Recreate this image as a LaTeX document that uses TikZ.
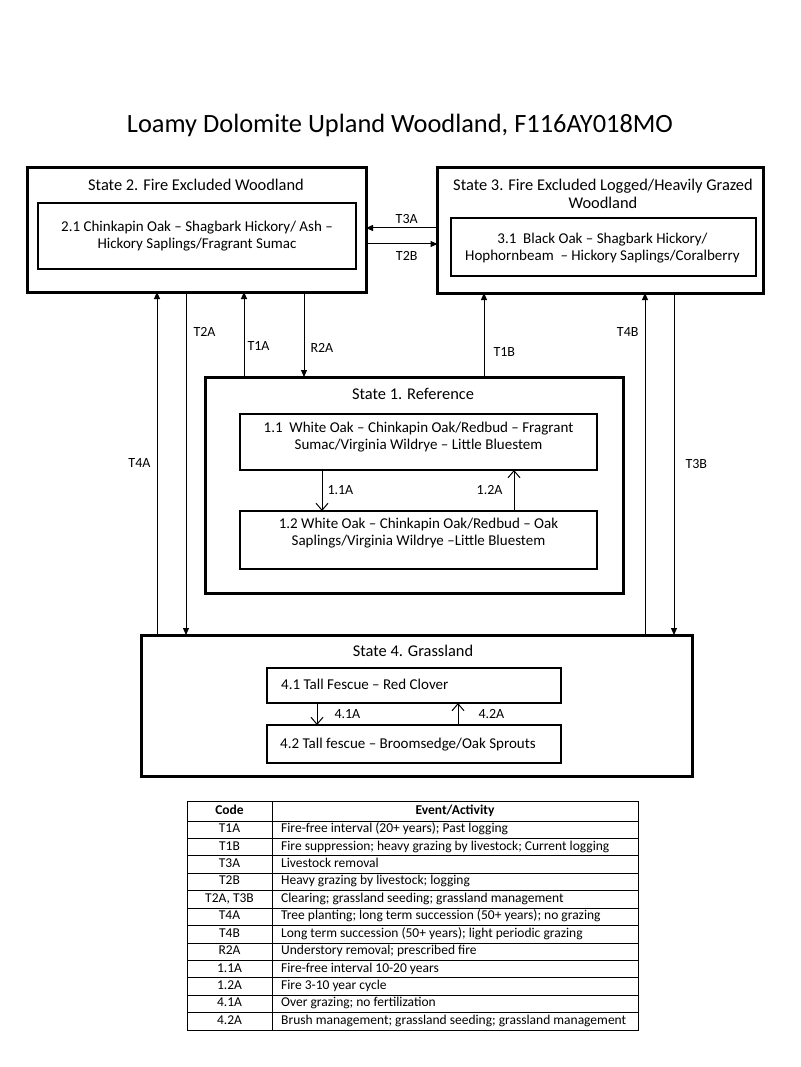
\documentclass[tikz,border=0pt]{standalone}
\usepackage{fontspec}
\setmainfont{Carlito}
\usetikzlibrary{arrows.meta}

\begin{document}
\begin{tikzpicture}[x=1pt,y=-1pt,
    statebox/.style={draw,line width=3pt,inner sep=0pt,outer sep=0pt},
    phasebox/.style={draw,line width=1.1pt,inner sep=0pt,outer sep=0pt},
    trans/.style={-{Triangle[length=7pt,width=6pt]},line width=1pt},
    pathway/.style={-{Straight Barb[length=7pt,width=12pt]},line width=1pt},
    lbl/.style={font=\fontsize{14}{16}\selectfont,inner sep=0pt}]

  \useasboundingbox[fill=white] (0,0) rectangle (800,1067);

  \node (title) at (400,125) {\fontsize{26.4}{30}\selectfont Loamy Dolomite Upland Woodland, F116AY018MO};

  % state boxes
  \begin{scope}[every node/.style={statebox}]
    \node[minimum width=339pt,minimum height=124pt] (s2) at (196.5,230)  {};
    \node[minimum width=326pt,minimum height=125pt] (s3) at (600.5,230.5) {};
    \node[minimum width=418pt,minimum height=216pt] (s1) at (414,485)    {};
    \node[minimum width=551pt,minimum height=141pt] (s4) at (416.5,705.5) {};
  \end{scope}

  % community phase boxes
  \begin{scope}[every node/.style={phasebox}]
    \node[minimum width=318pt,minimum height=66pt] (p21) at (197,236)   {};
    \node[minimum width=305pt,minimum height=58pt] (p31) at (603.5,247) {};
    \node[minimum width=357pt,minimum height=56pt] (p11) at (418.5,442) {};
    \node[minimum width=357pt,minimum height=58pt] (p12) at (418.5,540) {};
    \node[minimum width=294pt,minimum height=35pt] (p41) at (414,685.5) {};
    \node[minimum width=294pt,minimum height=38pt] (p42) at (414,744)   {};
  \end{scope}

  % state titles
  \begin{scope}[every node/.style={align=center,inner sep=0pt,font=\fontsize{16.4}{18}\selectfont}]
    \node (t2) at (196,185) {State 2. Fire Excluded Woodland};
    \node (t3) at (603,194) {State 3. Fire Excluded Logged/Heavily Grazed\\Woodland};
    \node (t1) at (413,394) {State 1. Reference};
    \node (t4) at (413,651) {State 4. Grassland};
  \end{scope}

  % phase texts
  \begin{scope}[every node/.style={align=center,inner sep=0pt,font=\fontsize{15}{17.5}\selectfont}]
    \node (x21) at (197,236)   {2.1 Chinkapin Oak -- Shagbark Hickory/ Ash --\\Hickory Saplings/Fragrant Sumac};
    \node (x31) at (602.5,248) {3.1\ \ Black Oak -- Shagbark Hickory/\\Hophornbeam\ \ -- Hickory Saplings/Coralberry};
    \node (x11) at (418.5,437) {1.1\ \ White Oak -- Chinkapin Oak/Redbud -- Fragrant\\Sumac/Virginia Wildrye -- Little Bluestem};
    \node (x12) at (418.5,533) {1.2 White Oak -- Chinkapin Oak/Redbud -- Oak\\Saplings/Virginia Wildrye --Little Bluestem};
    \node[anchor=west] (x41) at (281,684) {4.1 Tall Fescue -- Red Clover};
    \node[anchor=west] (x42) at (280,745) {4.2 Tall fescue -- Broomsedge/Oak Sprouts};
  \end{scope}

  % transitions between states
  \draw[trans] (s3.west |- 0,228) -- node[lbl,above=4pt,xshift=5pt] (lT3A) {T3A} (s2.east |- 0,228);
  \draw[trans] (s2.east |- 0,244) -- node[lbl,below=7pt,xshift=5pt] (lT2B) {T2B} (s3.west |- 0,244);
  \draw[trans] (s4.north -| 157,0) -- node[lbl,left=6pt] (lT4A) {T4A} (s2.south -| 157,0);
  \draw[trans] (s2.south -| 186,0) -- node[lbl,right=7pt,pos=.117] (lT2A) {T2A} (s4.north -| 186,0);
  \draw[trans] (s1.north -| 244,0) -- node[lbl,right=3pt,pos=.36] (lT1A) {T1A} (s2.south -| 244,0);
  \draw[trans] (s2.south -| 304,0) -- node[lbl,right=6pt,pos=.66] (lR2A) {R2A} (s1.north -| 304,0);
  \draw[trans] (s1.north -| 484,0) -- node[lbl,right=9pt,pos=.3] (lT1B) {T1B} (s3.south -| 484,0);
  \draw[trans] (s4.north -| 645,0) -- node[lbl,left=6pt,pos=.886] (lT4B) {T4B} (s3.south -| 645,0);
  \draw[trans] (s3.south -| 674,0) -- node[lbl,right=11pt] (lT3B) {T3B} (s4.north -| 674,0);

  % pathways between phases
  \draw[pathway] (p11.south -| 322,0) -- node[lbl,right=5pt] (l11A) {1.1A} (p12.north -| 322,0);
  \draw[pathway] (p12.north -| 514,0) -- node[lbl,left=11pt] (l12A) {1.2A} (p11.south -| 514,0);
  \draw[pathway] (p41.south -| 317,0) -- node[lbl,right=17pt] (l41A) {4.1A} (p42.north -| 317,0);
  \draw[pathway] (p42.north -| 458,0) -- node[lbl,right=20pt] (l42A) {4.2A} (p41.south -| 458,0);

  % legend table
  \begin{scope}[line width=0.9pt]
    \draw (187,801) rectangle (638,1030);
    \draw (272,801) -- (272,1030);
    \foreach \r in {0,...,11}
      \draw (187,821+\r*17.42) -- (638,821+\r*17.42);
  \end{scope}

  \begin{scope}[every node/.style={inner sep=0pt,text height=9pt,text depth=3pt,font=\fontsize{13.5}{15}\selectfont}]
    \node[font=\fontsize{13.5}{15}\selectfont\bfseries] (hcode)  at (229.5,811) {Code};
    \node[font=\fontsize{13.5}{15}\selectfont\bfseries] (hevent) at (455,811)   {Event/Activity};
    \foreach \code/\event [count=\i] in {
        T1A/{Fire-free interval (20+ years); Past logging},
        T1B/{Fire suppression; heavy grazing by livestock; Current logging},
        T3A/{Livestock removal},
        T2B/{Heavy grazing by livestock; logging},
        {T2A, T3B}/{Clearing; grassland seeding; grassland management},
        T4A/{Tree planting; long term succession (50+ years); no grazing},
        T4B/{Long term succession (50+ years); light periodic grazing},
        R2A/{Understory removal; prescribed fire},
        1.1A/{Fire-free interval 10-20 years},
        1.2A/{Fire 3-10 year cycle},
        4.1A/{Over grazing; no fertilization},
        4.2A/{Brush management; grassland seeding; grassland management}} {
      \node (c\i) at (229.5,{821+(\i-0.5)*17.42}) {\code};
      \node[anchor=west] (e\i) at (281,{821+(\i-0.5)*17.42}) {\event};
    }
  \end{scope}

\end{tikzpicture}
\end{document}
